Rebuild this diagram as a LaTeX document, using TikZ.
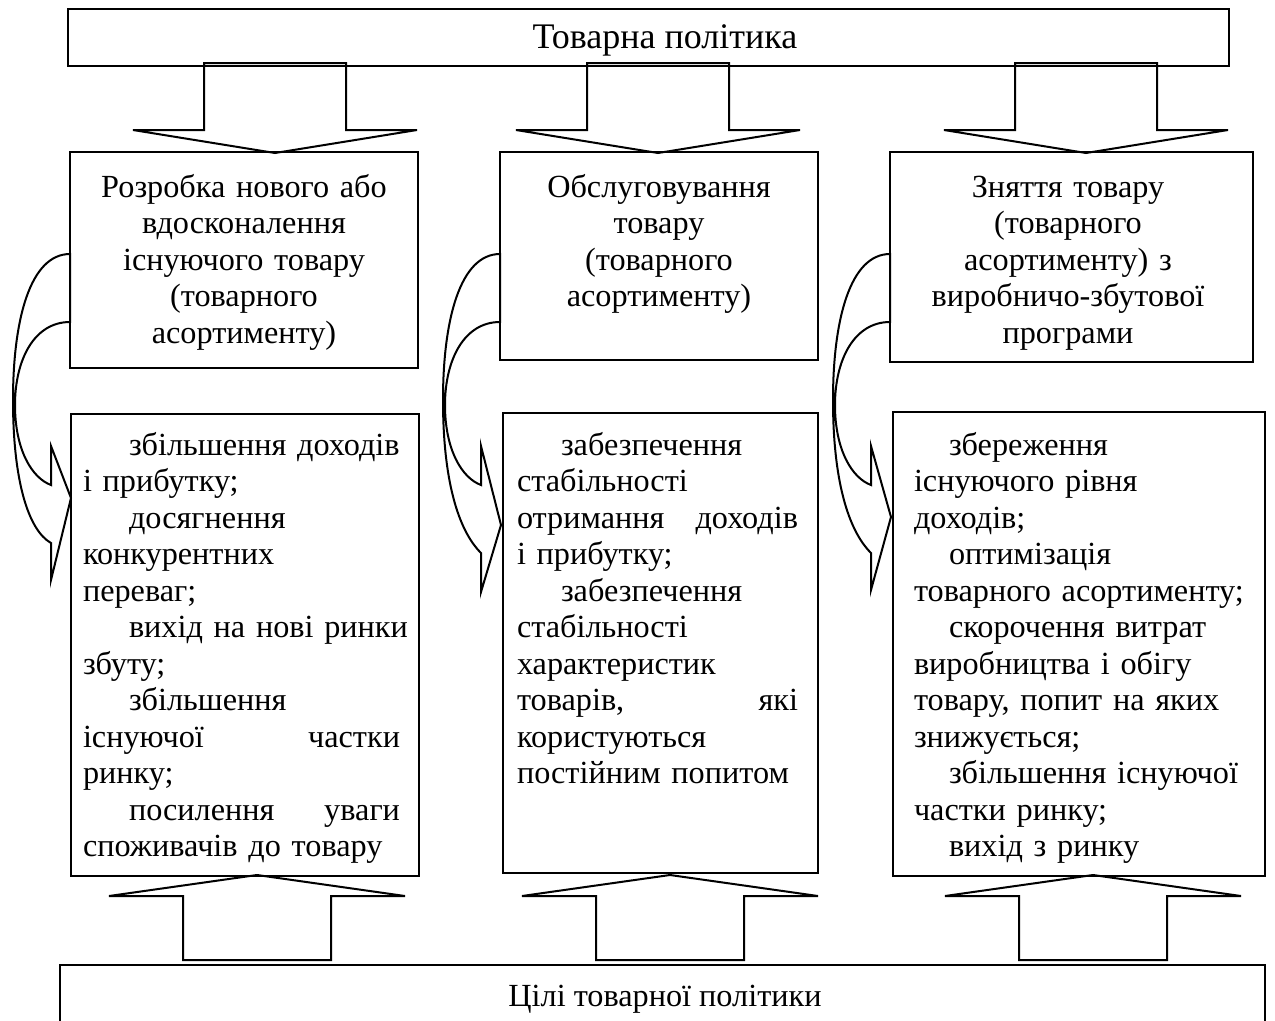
\documentclass[tikz,border=0pt]{standalone}
\usepackage{fontspec}
\setmainfont{Liberation Serif}
\usetikzlibrary{fit,calc}

\begin{document}
\begin{tikzpicture}[x=0.4pt,y=-0.4pt,line width=0.8pt,font=\fontsize{12.9}{14.6}\selectfont]
\tikzset{box/.style={draw,inner sep=0pt},
  lines/.style={inner sep=0pt,align=left,anchor=base west},
  title/.style={inner sep=0pt,align=center,anchor=base,text width=132pt}}
\clip (0,0) rectangle (1275,1021);
% block arrows
\foreach \c in {275,658,1086}{\draw ({\c-71},63) -- ({\c+71},63) -- ({\c+71},130) -- ({\c+142},130) -- (\c,153) -- ({\c-142},130) -- ({\c-71},130) -- cycle;}
\foreach \c in {257,670,1093}{\draw ({\c-74},960) -- ({\c+74},960) -- ({\c+74},896) -- ({\c+148},896) -- (\c,875) -- ({\c-148},896) -- ({\c-74},896) -- cycle;}
% curved arrows
\foreach \bx/\ty/\oe/\bb in {70/498/543/580,500/525/553/592,890/517/553/590}{
\draw (\bx,254) .. controls ({\bx-40},254) and ({\bx-57},320) .. ({\bx-57},400) .. controls ({\bx-57},480) and ({\bx-42},530) .. ({\bx-19},\oe) -- ({\bx-19},\bb) -- ({\bx+1},\ty) -- ({\bx-19},446) -- ({\bx-19},485) .. controls ({\bx-38},478) and ({\bx-55},450) .. ({\bx-55},405) .. controls ({\bx-55},360) and ({\bx-36},322) .. (\bx,322) -- cycle;}
% boxes
\node[box,fit={(68,9) (1229,66)}] (policy) {};
\node[box,fit={(70,152) (418,368)}] (dev) {};
\node[box,fit={(500,152) (818,360)}] (serv) {};
\node[box,fit={(890,152) (1253,362)}] (drop) {};
\node[box,fit={(71,414) (419,876)}] (devgoal) {};
\node[box,fit={(503,413) (818,873)}] (servgoal) {};
\node[box,fit={(893,412) (1265,876)}] (dropgoal) {};
\node[box,fit={(60,965) (1265,1032)}] (aims) {};
% texts
\node[inner sep=0pt,anchor=base,font=\fontsize{14.4}{14.6}\selectfont] (policyt) at (665,48) {Товарна політика};
\node[inner sep=0pt,anchor=base] (aimst) at (665,1006) {Цілі товарної політики};
\node[title] (devt) at (244,197) {Розробка нового або\\вдосконалення\\існуючого товару\\(товарного\\асортименту)};
\node[title] (servt) at (659,197) {Обслуговування\\товару\\(товарного\\асортименту)};
\node[title] (dropt) at (1068,197) {Зняття товару\\(товарного\\асортименту) з\\виробничо-збутової\\програми};
\node[lines,text width=133pt] (devlist) at (82,455) {\hspace*{18.4pt}збільшення доходів\\і прибутку;\\\hspace*{18.4pt}досягнення\\конкурентних\\переваг;\\\hspace*{18.4pt}вихід на нові ринки\\збуту;\\\hspace*{18.4pt}збільшення\\\makebox[126.8pt][l]{існуючої\hfill частки}\\ринку;\\\hspace*{18.4pt}\makebox[108.4pt][l]{посилення\hfill уваги}\\споживачів до товару};
\node[lines,text width=118pt] (servlist) at (516,455) {\hspace*{17.6pt}забезпечення\\стабільності\\\makebox[112.4pt][l]{отримання\hfill доходів}\\і прибутку;\\\hspace*{17.6pt}забезпечення\\стабільності\\характеристик\\\makebox[112.4pt][l]{товарів,\hfill які}\\користуються\\постійним попитом};
\node[lines,text width=136pt] (droplist) at (913,455) {\hspace*{14pt}збереження\\існуючого рівня\\доходів;\\\hspace*{14pt}оптимізація\\товарного асортименту;\\\hspace*{14pt}скорочення витрат\\виробництва і обігу\\товару, попит на яких\\знижується;\\\hspace*{14pt}збільшення існуючої\\частки ринку;\\\hspace*{14pt}вихід з ринку};
\end{tikzpicture}
\end{document}
